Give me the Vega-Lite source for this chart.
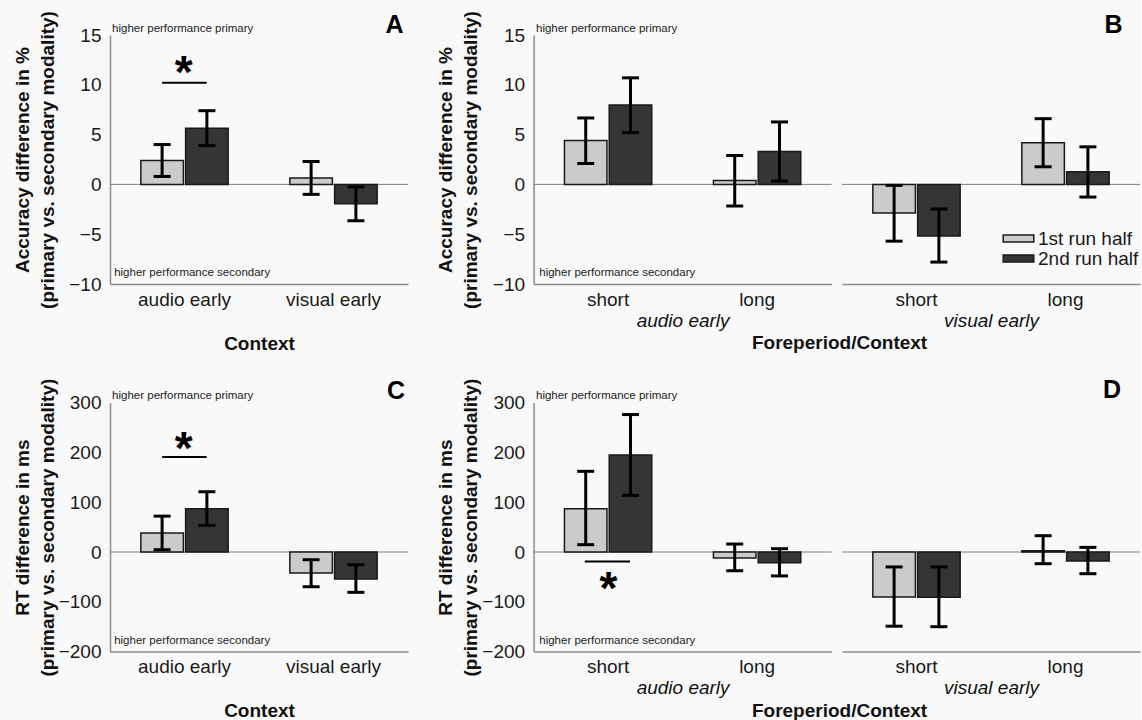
{
  "$schema": "https://vega.github.io/schema/vega-lite/v6.json",
  "background": "#f9f9f9",
  "padding": {"left": 12, "top": 10, "right": 0, "bottom": 0},
  "autosize": {"type": "pad"},
  "datasets": {
    "acc_ctx": [
      {"ctx": "audio early", "half": "1st run half", "m": 2.4, "lo": 0.8, "hi": 4.0},
      {"ctx": "audio early", "half": "2nd run half", "m": 5.65, "lo": 3.9, "hi": 7.4},
      {"ctx": "visual early", "half": "1st run half", "m": 0.65, "lo": -1.0, "hi": 2.3},
      {"ctx": "visual early", "half": "2nd run half", "m": -1.95, "lo": -3.65, "hi": -0.25}
    ],
    "acc_fp": [
      {"ctx": "audio early", "fp": "short", "half": "1st run half", "m": 4.4, "lo": 2.1, "hi": 6.67},
      {"ctx": "audio early", "fp": "short", "half": "2nd run half", "m": 7.96, "lo": 5.2, "hi": 10.7},
      {"ctx": "audio early", "fp": "long", "half": "1st run half", "m": 0.4, "lo": -2.17, "hi": 2.9},
      {"ctx": "audio early", "fp": "long", "half": "2nd run half", "m": 3.3, "lo": 0.33, "hi": 6.27},
      {"ctx": "visual early", "fp": "short", "half": "1st run half", "m": -2.87, "lo": -5.7, "hi": -0.1},
      {"ctx": "visual early", "fp": "short", "half": "2nd run half", "m": -5.17, "lo": -7.8, "hi": -2.47},
      {"ctx": "visual early", "fp": "long", "half": "1st run half", "m": 4.17, "lo": 1.77, "hi": 6.6},
      {"ctx": "visual early", "fp": "long", "half": "2nd run half", "m": 1.27, "lo": -1.27, "hi": 3.77}
    ],
    "rt_ctx": [
      {"ctx": "audio early", "half": "1st run half", "m": 38, "lo": 4.6, "hi": 72},
      {"ctx": "audio early", "half": "2nd run half", "m": 87, "lo": 53.4, "hi": 121},
      {"ctx": "visual early", "half": "1st run half", "m": -42, "lo": -69.7, "hi": -15.5},
      {"ctx": "visual early", "half": "2nd run half", "m": -54, "lo": -81, "hi": -25.5}
    ],
    "rt_fp": [
      {"ctx": "audio early", "fp": "short", "half": "1st run half", "m": 87, "lo": 14.7, "hi": 162},
      {"ctx": "audio early", "fp": "short", "half": "2nd run half", "m": 195, "lo": 113.7, "hi": 276},
      {"ctx": "audio early", "fp": "long", "half": "1st run half", "m": -12, "lo": -37.6, "hi": 16},
      {"ctx": "audio early", "fp": "long", "half": "2nd run half", "m": -21.5, "lo": -48, "hi": 6.6},
      {"ctx": "visual early", "fp": "short", "half": "1st run half", "m": -90.4, "lo": -149, "hi": -30},
      {"ctx": "visual early", "fp": "short", "half": "2nd run half", "m": -91, "lo": -150, "hi": -30},
      {"ctx": "visual early", "fp": "long", "half": "1st run half", "m": 2.6, "lo": -23.5, "hi": 32.7},
      {"ctx": "visual early", "fp": "long", "half": "2nd run half", "m": -18, "lo": -43.6, "hi": 9.3}
    ],
    "annA": [
      {"kind": "zero", "ax": 0, "ax2": 1, "ay": 0},
      {"kind": "note", "label": "higher performance primary", "ax": 0.007, "ay": 15.56},
      {"kind": "note", "label": "higher performance secondary", "ax": 0.014, "ay": -8.9},
      {"kind": "letter", "label": "A", "ax": 0.955, "ay": 15.97},
      {"kind": "star", "label": "*", "ax": 0.247, "ay": 9.65},
      {"kind": "sig", "ax": 0.175, "ax2": 0.3245, "ay": 10.2}
    ],
    "annB1": [
      {"kind": "zero", "ax": 0, "ax2": 1, "ay": 0},
      {"kind": "note", "label": "higher performance primary", "ax": 0.008, "ay": 15.56},
      {"kind": "note", "label": "higher performance secondary", "ax": 0.019, "ay": -8.9}
    ],
    "annB2": [
      {"kind": "zero", "ax": 0, "ax2": 1, "ay": 0},
      {"kind": "letter", "label": "B", "ax": 0.911, "ay": 15.97}
    ],
    "annC": [
      {"kind": "zero", "ax": 0, "ax2": 1, "ay": 0},
      {"kind": "note", "label": "higher performance primary", "ax": 0.007, "ay": 313.3},
      {"kind": "note", "label": "higher performance secondary", "ax": 0.014, "ay": -178.7},
      {"kind": "letter", "label": "C", "ax": 0.96, "ay": 323.3},
      {"kind": "star", "label": "*", "ax": 0.247, "ay": 176},
      {"kind": "sig", "ax": 0.175, "ax2": 0.3245, "ay": 190.7}
    ],
    "annD1": [
      {"kind": "zero", "ax": 0, "ax2": 1, "ay": 0},
      {"kind": "note", "label": "higher performance primary", "ax": 0.008, "ay": 313.3},
      {"kind": "note", "label": "higher performance secondary", "ax": 0.019, "ay": -178.7},
      {"kind": "star", "label": "*", "ax": 0.251, "ay": -104},
      {"kind": "sig", "ax": 0.1716, "ax2": 0.3235, "ay": -19}
    ],
    "annD2": [
      {"kind": "zero", "ax": 0, "ax2": 1, "ay": 0},
      {"kind": "letter", "label": "D", "ax": 0.906, "ay": 325.3}
    ]
  },
  "spacing": 24.6,
  "vconcat": [
    {
      "spacing": 26.6,
      "hconcat": [
        {
          "width": 298, "height": 249,
          "resolve": {"scale": {"x": "independent"}},
          "layer": [
            {"data": {"name": "annA"}, "transform": [{"filter": "datum.kind === 'zero'"}],
             "mark": {"type": "rule", "color": "#808080", "strokeWidth": 1},
             "encoding": {"x": {"field": "ax", "type": "quantitative", "scale": {"domain": [0, 1]}, "axis": null}, "x2": {"field": "ax2"},
                          "y": {"field": "ay", "type": "quantitative", "scale": {"domain": [-10, 15], "nice": false}}}},
            {"data": {"name": "acc_ctx"},
             "encoding": {
               "x": {"field": "ctx", "type": "nominal", "sort": ["audio early", "visual early"], "scale": {"paddingInner": 0.414, "paddingOuter": 0.207}, "axis": {"title": "Context", "titlePadding": 25}},
               "xOffset": {"field": "half", "type": "nominal", "sort": ["1st run half", "2nd run half"], "scale": {"paddingInner": 0.05, "paddingOuter": 0}}},
             "layer": [
               {"mark": {"type": "bar", "stroke": "#1a1a1a", "strokeWidth": 1.5},
                "encoding": {"y": {"field": "m", "type": "quantitative", "scale": {"domain": [-10, 15], "nice": false}, "axis": {"values": [-10, -5, 0, 5, 10, 15], "title": ["Accuracy difference in %", "(primary vs. secondary modality)"]}},
                             "color": {"field": "half", "type": "nominal", "scale": {"domain": ["1st run half", "2nd run half"], "range": ["#cbcbcb", "#353535"]}}}},
               {"mark": {"type": "rule", "color": "#000", "strokeWidth": 3},
                "encoding": {"y": {"field": "lo", "type": "quantitative", "scale": {"domain": [-10, 15], "nice": false}}, "y2": {"field": "hi"}}},
               {"mark": {"type": "tick", "color": "#000", "size": 17, "thickness": 3, "opacity": 1},
                "encoding": {"y": {"field": "lo", "type": "quantitative", "scale": {"domain": [-10, 15], "nice": false}}}},
               {"mark": {"type": "tick", "color": "#000", "size": 17, "thickness": 3, "opacity": 1},
                "encoding": {"y": {"field": "hi", "type": "quantitative", "scale": {"domain": [-10, 15], "nice": false}}}}
             ]},
            {"data": {"name": "annA"},
             "encoding": {"x": {"field": "ax", "type": "quantitative", "scale": {"domain": [0, 1]}, "axis": null},
                          "y": {"field": "ay", "type": "quantitative", "scale": {"domain": [-10, 15], "nice": false}}},
             "layer": [
               {"transform": [{"filter": "datum.kind === 'sig'"}], "mark": {"type": "rule", "color": "#000", "strokeWidth": 2}, "encoding": {"x2": {"field": "ax2"}}},
               {"transform": [{"filter": "datum.kind === 'note'"}], "mark": {"type": "text", "align": "left", "baseline": "middle", "fontSize": 11.5, "color": "#222"}, "encoding": {"text": {"field": "label"}}},
               {"transform": [{"filter": "datum.kind === 'letter'"}], "mark": {"type": "text", "align": "center", "baseline": "middle", "fontSize": 25, "fontWeight": "bold", "color": "#000"}, "encoding": {"text": {"field": "label"}}},
               {"transform": [{"filter": "datum.kind === 'star'"}], "mark": {"type": "text", "align": "center", "baseline": "alphabetic", "fontSize": 46, "fontWeight": "bold", "color": "#000"}, "encoding": {"text": {"field": "label"}}}
             ]}
          ]
        },
        {
          "spacing": 8.4,
          "title": {"text": "Foreperiod/Context", "orient": "bottom", "anchor": "middle", "fontSize": 19, "fontWeight": "bold", "color": "#111", "dx": 51, "offset": 4},
          "hconcat": [
            {
              "width": 298, "height": 249,
              "resolve": {"scale": {"x": "independent"}},
              "layer": [
                {"data": {"name": "annB1"}, "transform": [{"filter": "datum.kind === 'zero'"}],
                 "mark": {"type": "rule", "color": "#808080", "strokeWidth": 1},
                 "encoding": {"x": {"field": "ax", "type": "quantitative", "scale": {"domain": [0, 1]}, "axis": null}, "x2": {"field": "ax2"},
                              "y": {"field": "ay", "type": "quantitative", "scale": {"domain": [-10, 15], "nice": false}}}},
                {"data": {"name": "acc_fp"}, "transform": [{"filter": "datum.ctx === 'audio early'"}],
                 "encoding": {
                   "x": {"field": "fp", "type": "nominal", "sort": ["short", "long"], "scale": {"paddingInner": 0.414, "paddingOuter": 0.207}, "axis": {"title": "audio early", "titleFontStyle": "italic", "titleFontWeight": "normal", "titlePadding": 2}},
                   "xOffset": {"field": "half", "type": "nominal", "sort": ["1st run half", "2nd run half"], "scale": {"paddingInner": 0.05, "paddingOuter": 0}}},
                 "layer": [
                   {"mark": {"type": "bar", "stroke": "#1a1a1a", "strokeWidth": 1.5},
                    "encoding": {"y": {"field": "m", "type": "quantitative", "scale": {"domain": [-10, 15], "nice": false}, "axis": {"values": [-10, -5, 0, 5, 10, 15], "title": ["Accuracy difference in %", "(primary vs. secondary modality)"]}},
                                 "color": {"field": "half", "type": "nominal", "scale": {"domain": ["1st run half", "2nd run half"], "range": ["#cbcbcb", "#353535"]}}}},
                   {"mark": {"type": "rule", "color": "#000", "strokeWidth": 3},
                    "encoding": {"y": {"field": "lo", "type": "quantitative", "scale": {"domain": [-10, 15], "nice": false}}, "y2": {"field": "hi"}}},
                   {"mark": {"type": "tick", "color": "#000", "size": 17, "thickness": 3, "opacity": 1},
                    "encoding": {"y": {"field": "lo", "type": "quantitative", "scale": {"domain": [-10, 15], "nice": false}}}},
                   {"mark": {"type": "tick", "color": "#000", "size": 17, "thickness": 3, "opacity": 1},
                    "encoding": {"y": {"field": "hi", "type": "quantitative", "scale": {"domain": [-10, 15], "nice": false}}}}
                 ]},
                {"data": {"name": "annB1"},
                 "encoding": {"x": {"field": "ax", "type": "quantitative", "scale": {"domain": [0, 1]}, "axis": null},
                              "y": {"field": "ay", "type": "quantitative", "scale": {"domain": [-10, 15], "nice": false}}},
                 "layer": [
                   {"transform": [{"filter": "datum.kind === 'note'"}], "mark": {"type": "text", "align": "left", "baseline": "middle", "fontSize": 11.5, "color": "#222"}, "encoding": {"text": {"field": "label"}}}
                 ]}
              ]
            },
            {
              "width": 298, "height": 249,
              "resolve": {"scale": {"x": "independent"}},
              "layer": [
                {"data": {"name": "annB2"}, "transform": [{"filter": "datum.kind === 'zero'"}],
                 "mark": {"type": "rule", "color": "#808080", "strokeWidth": 1},
                 "encoding": {"x": {"field": "ax", "type": "quantitative", "scale": {"domain": [0, 1]}, "axis": null}, "x2": {"field": "ax2"},
                              "y": {"field": "ay", "type": "quantitative", "scale": {"domain": [-10, 15], "nice": false}, "axis": null}}},
                {"data": {"name": "acc_fp"}, "transform": [{"filter": "datum.ctx === 'visual early'"}],
                 "encoding": {
                   "x": {"field": "fp", "type": "nominal", "sort": ["short", "long"], "scale": {"paddingInner": 0.414, "paddingOuter": 0.207}, "axis": {"title": "visual early", "titleFontStyle": "italic", "titleFontWeight": "normal", "titlePadding": 2}},
                   "xOffset": {"field": "half", "type": "nominal", "sort": ["1st run half", "2nd run half"], "scale": {"paddingInner": 0.05, "paddingOuter": 0}}},
                 "layer": [
                   {"mark": {"type": "bar", "stroke": "#1a1a1a", "strokeWidth": 1.5},
                    "encoding": {"y": {"field": "m", "type": "quantitative", "scale": {"domain": [-10, 15], "nice": false}, "axis": null},
                                 "color": {"field": "half", "type": "nominal", "scale": {"domain": ["1st run half", "2nd run half"], "range": ["#cbcbcb", "#353535"]},
                                           "legend": {"orient": "none", "legendX": 899, "legendY": 194, "title": null, "symbolType": "M-1.8,-0.42H1.8V0.42H-1.8Z", "symbolSize": 289, "symbolStrokeColor": "#1a1a1a", "symbolStrokeWidth": 1.5, "symbolOpacity": 1, "labelFontSize": 19, "labelOffset": 10, "rowPadding": -1, "labelColor": "#1a1a1a", "padding": 0}}}},
                   {"mark": {"type": "rule", "color": "#000", "strokeWidth": 3},
                    "encoding": {"y": {"field": "lo", "type": "quantitative", "scale": {"domain": [-10, 15], "nice": false}, "axis": null}, "y2": {"field": "hi"}}},
                   {"mark": {"type": "tick", "color": "#000", "size": 17, "thickness": 3, "opacity": 1},
                    "encoding": {"y": {"field": "lo", "type": "quantitative", "scale": {"domain": [-10, 15], "nice": false}, "axis": null}}},
                   {"mark": {"type": "tick", "color": "#000", "size": 17, "thickness": 3, "opacity": 1},
                    "encoding": {"y": {"field": "hi", "type": "quantitative", "scale": {"domain": [-10, 15], "nice": false}, "axis": null}}}
                 ]},
                {"data": {"name": "annB2"},
                 "encoding": {"x": {"field": "ax", "type": "quantitative", "scale": {"domain": [0, 1]}, "axis": null},
                              "y": {"field": "ay", "type": "quantitative", "scale": {"domain": [-10, 15], "nice": false}, "axis": null}},
                 "layer": [
                   {"transform": [{"filter": "datum.kind === 'letter'"}], "mark": {"type": "text", "align": "center", "baseline": "middle", "fontSize": 25, "fontWeight": "bold", "color": "#000"}, "encoding": {"text": {"field": "label"}}}
                 ]}
              ]
            }
          ]
        }
      ]
    },
    {
      "spacing": 26.6,
      "hconcat": [
        {
          "width": 298, "height": 249,
          "resolve": {"scale": {"x": "independent"}},
          "layer": [
            {"data": {"name": "annC"}, "transform": [{"filter": "datum.kind === 'zero'"}],
             "mark": {"type": "rule", "color": "#808080", "strokeWidth": 1},
             "encoding": {"x": {"field": "ax", "type": "quantitative", "scale": {"domain": [0, 1]}, "axis": null}, "x2": {"field": "ax2"},
                          "y": {"field": "ay", "type": "quantitative", "scale": {"domain": [-200, 300], "nice": false}}}},
            {"data": {"name": "rt_ctx"},
             "encoding": {
               "x": {"field": "ctx", "type": "nominal", "sort": ["audio early", "visual early"], "scale": {"paddingInner": 0.414, "paddingOuter": 0.207}, "axis": {"title": "Context", "titlePadding": 25}},
               "xOffset": {"field": "half", "type": "nominal", "sort": ["1st run half", "2nd run half"], "scale": {"paddingInner": 0.05, "paddingOuter": 0}}},
             "layer": [
               {"mark": {"type": "bar", "stroke": "#1a1a1a", "strokeWidth": 1.5},
                "encoding": {"y": {"field": "m", "type": "quantitative", "scale": {"domain": [-200, 300], "nice": false}, "axis": {"values": [-200, -100, 0, 100, 200, 300], "title": ["RT difference in ms", "(primary vs. secondary modality)"]}},
                             "color": {"field": "half", "type": "nominal", "scale": {"domain": ["1st run half", "2nd run half"], "range": ["#cbcbcb", "#353535"]}}}},
               {"mark": {"type": "rule", "color": "#000", "strokeWidth": 3},
                "encoding": {"y": {"field": "lo", "type": "quantitative", "scale": {"domain": [-200, 300], "nice": false}}, "y2": {"field": "hi"}}},
               {"mark": {"type": "tick", "color": "#000", "size": 17, "thickness": 3, "opacity": 1},
                "encoding": {"y": {"field": "lo", "type": "quantitative", "scale": {"domain": [-200, 300], "nice": false}}}},
               {"mark": {"type": "tick", "color": "#000", "size": 17, "thickness": 3, "opacity": 1},
                "encoding": {"y": {"field": "hi", "type": "quantitative", "scale": {"domain": [-200, 300], "nice": false}}}}
             ]},
            {"data": {"name": "annC"},
             "encoding": {"x": {"field": "ax", "type": "quantitative", "scale": {"domain": [0, 1]}, "axis": null},
                          "y": {"field": "ay", "type": "quantitative", "scale": {"domain": [-200, 300], "nice": false}}},
             "layer": [
               {"transform": [{"filter": "datum.kind === 'sig'"}], "mark": {"type": "rule", "color": "#000", "strokeWidth": 2}, "encoding": {"x2": {"field": "ax2"}}},
               {"transform": [{"filter": "datum.kind === 'note'"}], "mark": {"type": "text", "align": "left", "baseline": "middle", "fontSize": 11.5, "color": "#222"}, "encoding": {"text": {"field": "label"}}},
               {"transform": [{"filter": "datum.kind === 'letter'"}], "mark": {"type": "text", "align": "center", "baseline": "middle", "fontSize": 25, "fontWeight": "bold", "color": "#000"}, "encoding": {"text": {"field": "label"}}},
               {"transform": [{"filter": "datum.kind === 'star'"}], "mark": {"type": "text", "align": "center", "baseline": "alphabetic", "fontSize": 46, "fontWeight": "bold", "color": "#000"}, "encoding": {"text": {"field": "label"}}}
             ]}
          ]
        },
        {
          "spacing": 8.4,
          "title": {"text": "Foreperiod/Context", "orient": "bottom", "anchor": "middle", "fontSize": 19, "fontWeight": "bold", "color": "#111", "dx": 51, "offset": 4},
          "hconcat": [
            {
              "width": 298, "height": 249,
              "resolve": {"scale": {"x": "independent"}},
              "layer": [
                {"data": {"name": "annD1"}, "transform": [{"filter": "datum.kind === 'zero'"}],
                 "mark": {"type": "rule", "color": "#808080", "strokeWidth": 1},
                 "encoding": {"x": {"field": "ax", "type": "quantitative", "scale": {"domain": [0, 1]}, "axis": null}, "x2": {"field": "ax2"},
                              "y": {"field": "ay", "type": "quantitative", "scale": {"domain": [-200, 300], "nice": false}}}},
                {"data": {"name": "rt_fp"}, "transform": [{"filter": "datum.ctx === 'audio early'"}],
                 "encoding": {
                   "x": {"field": "fp", "type": "nominal", "sort": ["short", "long"], "scale": {"paddingInner": 0.414, "paddingOuter": 0.207}, "axis": {"title": "audio early", "titleFontStyle": "italic", "titleFontWeight": "normal", "titlePadding": 2}},
                   "xOffset": {"field": "half", "type": "nominal", "sort": ["1st run half", "2nd run half"], "scale": {"paddingInner": 0.05, "paddingOuter": 0}}},
                 "layer": [
                   {"mark": {"type": "bar", "stroke": "#1a1a1a", "strokeWidth": 1.5},
                    "encoding": {"y": {"field": "m", "type": "quantitative", "scale": {"domain": [-200, 300], "nice": false}, "axis": {"values": [-200, -100, 0, 100, 200, 300], "title": ["RT difference in ms", "(primary vs. secondary modality)"]}},
                                 "color": {"field": "half", "type": "nominal", "scale": {"domain": ["1st run half", "2nd run half"], "range": ["#cbcbcb", "#353535"]}}}},
                   {"mark": {"type": "rule", "color": "#000", "strokeWidth": 3},
                    "encoding": {"y": {"field": "lo", "type": "quantitative", "scale": {"domain": [-200, 300], "nice": false}}, "y2": {"field": "hi"}}},
                   {"mark": {"type": "tick", "color": "#000", "size": 17, "thickness": 3, "opacity": 1},
                    "encoding": {"y": {"field": "lo", "type": "quantitative", "scale": {"domain": [-200, 300], "nice": false}}}},
                   {"mark": {"type": "tick", "color": "#000", "size": 17, "thickness": 3, "opacity": 1},
                    "encoding": {"y": {"field": "hi", "type": "quantitative", "scale": {"domain": [-200, 300], "nice": false}}}}
                 ]},
                {"data": {"name": "annD1"},
                 "encoding": {"x": {"field": "ax", "type": "quantitative", "scale": {"domain": [0, 1]}, "axis": null},
                              "y": {"field": "ay", "type": "quantitative", "scale": {"domain": [-200, 300], "nice": false}}},
                 "layer": [
                   {"transform": [{"filter": "datum.kind === 'sig'"}], "mark": {"type": "rule", "color": "#000", "strokeWidth": 2}, "encoding": {"x2": {"field": "ax2"}}},
                   {"transform": [{"filter": "datum.kind === 'note'"}], "mark": {"type": "text", "align": "left", "baseline": "middle", "fontSize": 11.5, "color": "#222"}, "encoding": {"text": {"field": "label"}}},
                   {"transform": [{"filter": "datum.kind === 'star'"}], "mark": {"type": "text", "align": "center", "baseline": "alphabetic", "fontSize": 46, "fontWeight": "bold", "color": "#000"}, "encoding": {"text": {"field": "label"}}}
                 ]}
              ]
            },
            {
              "width": 298, "height": 249,
              "resolve": {"scale": {"x": "independent"}},
              "layer": [
                {"data": {"name": "annD2"}, "transform": [{"filter": "datum.kind === 'zero'"}],
                 "mark": {"type": "rule", "color": "#808080", "strokeWidth": 1},
                 "encoding": {"x": {"field": "ax", "type": "quantitative", "scale": {"domain": [0, 1]}, "axis": null}, "x2": {"field": "ax2"},
                              "y": {"field": "ay", "type": "quantitative", "scale": {"domain": [-200, 300], "nice": false}, "axis": null}}},
                {"data": {"name": "rt_fp"}, "transform": [{"filter": "datum.ctx === 'visual early'"}],
                 "encoding": {
                   "x": {"field": "fp", "type": "nominal", "sort": ["short", "long"], "scale": {"paddingInner": 0.414, "paddingOuter": 0.207}, "axis": {"title": "visual early", "titleFontStyle": "italic", "titleFontWeight": "normal", "titlePadding": 2}},
                   "xOffset": {"field": "half", "type": "nominal", "sort": ["1st run half", "2nd run half"], "scale": {"paddingInner": 0.05, "paddingOuter": 0}}},
                 "layer": [
                   {"mark": {"type": "bar", "stroke": "#1a1a1a", "strokeWidth": 1.5},
                    "encoding": {"y": {"field": "m", "type": "quantitative", "scale": {"domain": [-200, 300], "nice": false}, "axis": null},
                                 "color": {"field": "half", "type": "nominal", "scale": {"domain": ["1st run half", "2nd run half"], "range": ["#cbcbcb", "#353535"]}}}},
                   {"mark": {"type": "rule", "color": "#000", "strokeWidth": 3},
                    "encoding": {"y": {"field": "lo", "type": "quantitative", "scale": {"domain": [-200, 300], "nice": false}, "axis": null}, "y2": {"field": "hi"}}},
                   {"mark": {"type": "tick", "color": "#000", "size": 17, "thickness": 3, "opacity": 1},
                    "encoding": {"y": {"field": "lo", "type": "quantitative", "scale": {"domain": [-200, 300], "nice": false}, "axis": null}}},
                   {"mark": {"type": "tick", "color": "#000", "size": 17, "thickness": 3, "opacity": 1},
                    "encoding": {"y": {"field": "hi", "type": "quantitative", "scale": {"domain": [-200, 300], "nice": false}, "axis": null}}}
                 ]},
                {"data": {"name": "annD2"},
                 "encoding": {"x": {"field": "ax", "type": "quantitative", "scale": {"domain": [0, 1]}, "axis": null},
                              "y": {"field": "ay", "type": "quantitative", "scale": {"domain": [-200, 300], "nice": false}, "axis": null}},
                 "layer": [
                   {"transform": [{"filter": "datum.kind === 'letter'"}], "mark": {"type": "text", "align": "center", "baseline": "middle", "fontSize": 25, "fontWeight": "bold", "color": "#000"}, "encoding": {"text": {"field": "label"}}}
                 ]}
              ]
            }
          ]
        }
      ]
    }
  ],
  "config": {
    "font": "Liberation Sans",
    "view": {"stroke": null},
    "axis": {"grid": false, "ticks": false, "domainColor": "#8c8c8c", "domainWidth": 1.5, "labelColor": "#1a1a1a", "titleColor": "#111", "labelFontSize": 19, "titleFontSize": 19, "titleFontWeight": "bold"},
    "axisX": {"labelAngle": 0, "labelPadding": 6},
    "axisY": {"labelPadding": 9, "minExtent": 40, "maxExtent": 40, "titlePadding": 13, "titleLineHeight": 25},
    "title": {"font": "Liberation Sans"}
  }
}
